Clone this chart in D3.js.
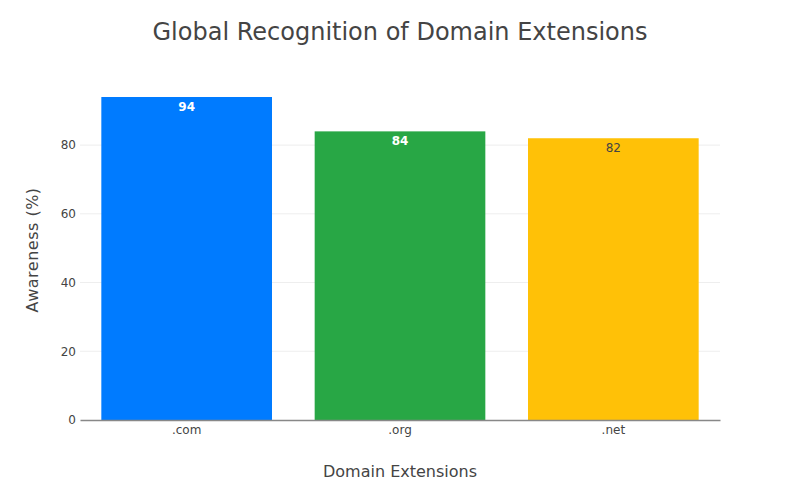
<!DOCTYPE html>
<html><head><meta charset="utf-8">
<script src="https://cdn.jsdelivr.net/npm/d3@7"></script>
<style>body{margin:0;background:#fff}svg{display:block}</style>
</head><body><div id="c"></div>
<script>
const categories = [".com", ".org", ".net"];
const values = [94, 84, 82];
const colors = ["#007bff", "#28a745", "#ffc107"];
const labelColors = ["#ffffff", "#ffffff", "#444444"];
const labelWeights = ["bold", "bold", "normal"];
const yTicks = [0, 20, 40, 60, 80];

const W = 800, H = 500, m = {l: 80, r: 80, t: 80, b: 80};
const font = "'DejaVu Sans', Verdana, sans-serif";
const svg = d3.select("#c").append("svg").attr("width", W).attr("height", H);
const x = d3.scaleBand().domain(categories).range([m.l, W - m.r]).paddingInner(0.2).paddingOuter(0.1);
const y = d3.scaleLinear().domain([0, 98.95]).range([H - m.b, m.t]);

// grid
svg.append("g").selectAll("line").data(yTicks.filter(d => d > 0)).join("line")
  .attr("x1", m.l).attr("x2", W - m.r).attr("y1", d => y(d)).attr("y2", d => y(d))
  .attr("stroke", "#eeeeee").attr("stroke-width", 1);

// bars
svg.append("g").selectAll("rect").data(categories).join("rect")
  .attr("x", d => x(d)).attr("width", x.bandwidth())
  .attr("y", (d, i) => y(values[i])).attr("height", (d, i) => y(0) - y(values[i]))
  .attr("fill", (d, i) => colors[i]);

// labels
svg.append("g").selectAll("text").data(categories).join("text")
  .attr("x", d => x(d) + x.bandwidth() / 2).attr("y", (d, i) => y(values[i]) + 14)
  .attr("text-anchor", "middle").attr("font-family", font).attr("font-size", 12)
  .attr("fill", (d, i) => labelColors[i]).attr("font-weight", (d, i) => labelWeights[i])
  .text((d, i) => values[i]);

// y axis
const ya = d3.axisLeft(y).tickValues(yTicks).tickSize(0).tickPadding(3);
const yg = svg.append("g").attr("transform", `translate(${m.l - 1},0)`).call(ya);
yg.select(".domain").remove();
yg.selectAll("text").attr("font-family", font).attr("font-size", 12).attr("fill", "#444");

// x axis
const xa = d3.axisBottom(x).tickSize(0).tickPadding(5);
const xg = svg.append("g").attr("transform", `translate(0,${H - m.b})`).call(xa);
xg.select(".domain").attr("stroke", "#888").attr("stroke-width", 1.5);
xg.selectAll("text").attr("font-family", font).attr("font-size", 12).attr("fill", "#444");

// titles
svg.append("text").attr("x", W / 2).attr("y", 40).attr("text-anchor", "middle")
  .attr("font-family", font).attr("font-size", 24).attr("fill", "#444")
  .text("Global Recognition of Domain Extensions");
svg.append("text").attr("x", W / 2).attr("y", 477).attr("text-anchor", "middle")
  .attr("font-family", font).attr("font-size", 16).attr("fill", "#444")
  .text("Domain Extensions");
svg.append("text").attr("transform", `translate(38,${(m.t + H - m.b) / 2}) rotate(-90)`)
  .attr("text-anchor", "middle").attr("font-family", font).attr("font-size", 16).attr("fill", "#444")
  .attr("letter-spacing", 0.5)
  .text("Awareness (%)");
</script></body></html>
